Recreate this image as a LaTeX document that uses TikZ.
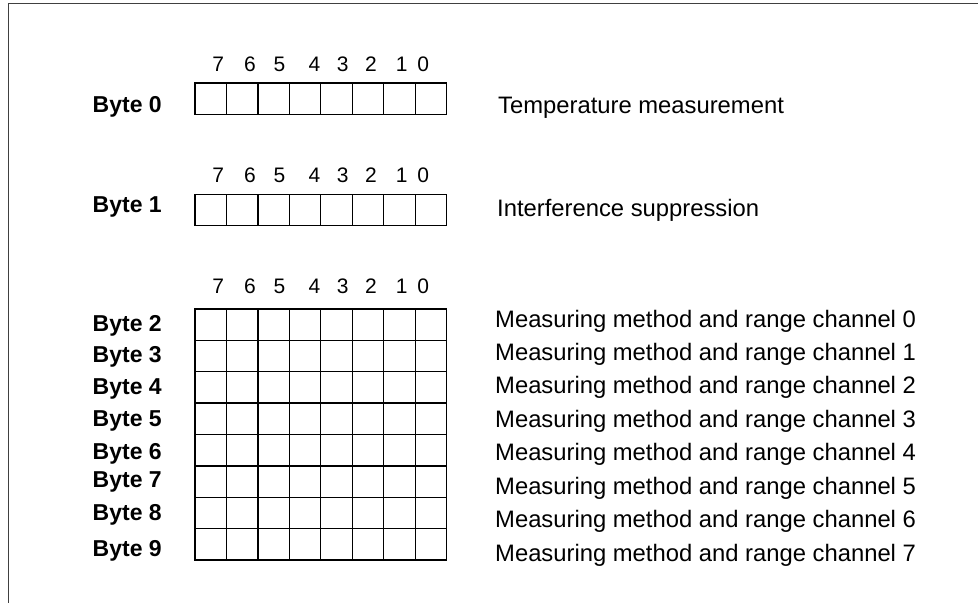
\documentclass[tikz,border=0pt]{standalone}
\usepackage{fontspec}
\setmainfont{Liberation Sans}
\begin{document}
\begin{tikzpicture}[x=1pt,y=-1pt,
  cell/.style={line width=1.3pt,black},
  frame/.style={line width=1pt,black!75},
  bytelbl/.style={anchor=base west,inner sep=0pt,font=\fontsize{23}{23}\selectfont\bfseries},
  desc/.style={anchor=base west,inner sep=0pt,font=\fontsize{23.8}{23.8}\selectfont},
  bitlbl/.style={anchor=base,inner sep=0pt,font=\fontsize{21}{21}\selectfont}]
\useasboundingbox (0,0) rectangle (978,603);
% frame (top and left edge)
\draw[frame] (978,3.3) -- (8,3.3) -- (8,603);
% single byte boxes
\foreach \t in {83,194.3}{
  \pgfmathsetmacro\b{\t+31.4}
  \draw[cell] (195,\t) rectangle (446.7,\b);
  \foreach \i in {1,...,7}{
    \draw[cell] ({195+\i*31.46},\t) -- ({195+\i*31.46},\b);
  }
}
% 8x8 grid
\draw[cell] (195,309) rectangle (446.7,560);
\foreach \i in {1,...,7}{
  \draw[cell] ({195+\i*31.46},309) -- ({195+\i*31.46},560);
  \draw[cell] (195,{309+\i*31.375}) -- (446.7,{309+\i*31.375});
}
% bit numbers
\foreach \r/\y in {0/71.5,1/182.7,2/293.3}{
  \foreach \d/\x in {7/218.3,6/250,5/279.5,4/314.5,3/342.7,2/371,1/401.7,0/423.3}{
    \node[bitlbl] (bit\r\d) at (\x,\y) {\d};
  }
}
% byte labels
\foreach \n/\y in {0/112,1/212.7,2/331,3/362.5,4/394,5/426.5,6/459,7/487,8/520,9/556.5}{
  \node[bytelbl] (byte\n) at (92.5,\y) {Byte \n};
}
% descriptions
\node[desc] (dtemp) at (498,113.5) {Temperature measurement};
\node[desc] (dint) at (497,216) {Interference suppression};
\foreach \c/\y in {0/327,1/360.4,2/393.9,3/427.3,4/460.7,5/494.1,6/527.6,7/561}{
  \node[desc] (dch\c) at (495,\y) {Measuring method and range channel \c};
}
\end{tikzpicture}
\end{document}
